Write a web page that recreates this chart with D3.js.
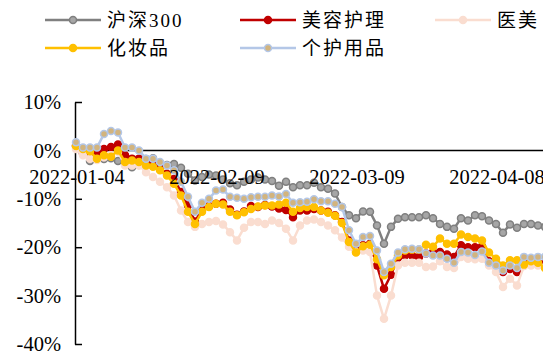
<!DOCTYPE html>
<html><head><meta charset="utf-8">
<script src="https://cdn.jsdelivr.net/npm/d3@7"></script>
<style>
html,body{margin:0;padding:0;background:#fff;}
svg{display:block;}
</style></head>
<body><svg id="c" width="543" height="352"></svg>
<script>
// ---- data (cumulative change, %) ----
const xTickIndex = [0, 20, 40, 60];
const xTickLabels = ["2022-01-04", "2022-02-09", "2022-03-09", "2022-04-08"];
const yTickValues = [10, 0, -10, -20, -30, -40];
const yTickLabels = ["10%", "0%", "-10%", "-20%", "-30%", "-40%"];

const seriesNames = ["沪深300", "美容护理", "医美", "化妆品", "个护用品"];

const hs300 = [0.8,-0.5,-2.2,-1.5,-1.8,-1.6,-2.2,-2.5,-3.5,-3.0,-1.8,-1.6,-2.6,-3.0,-2.8,-3.6,-4.8,-6.2,-5.5,-5.0,-5.2,-6.0,-6.8,-7.2,-6.5,-6.0,-5.6,-6.0,-6.3,-7.3,-6.5,-7.6,-7.2,-7.2,-6.7,-7.6,-7.9,-8.9,-11.7,-13.4,-14.0,-12.6,-12.7,-15.5,-19.3,-15.8,-14.1,-13.8,-13.8,-13.8,-13.4,-14.0,-15.2,-15.8,-16.2,-14.0,-14.5,-13.4,-13.6,-14.5,-15.2,-17.0,-15.3,-16.0,-15.2,-15.2,-15.5,-15.8];
const beauty = [1.0,-0.7,-1.0,-0.5,0.3,0.7,1.2,-1.0,-1.7,-1.7,-2.4,-2.4,-3.8,-4.8,-5.9,-8.6,-11.4,-14.7,-12.2,-11.5,-11.0,-10.8,-12.2,-13.3,-12.6,-11.5,-11.7,-11.3,-11.6,-12.0,-12.3,-13.8,-12.4,-12.4,-12.1,-12.4,-12.7,-13.4,-14.8,-18.6,-20.7,-19.6,-19.3,-23.8,-28.6,-25.7,-22.2,-21.7,-21.7,-22.0,-21.3,-21.0,-21.0,-21.5,-22.0,-19.6,-20.0,-20.0,-19.8,-22.9,-23.9,-25.1,-24.5,-25.1,-23.2,-23.0,-23.2,-23.2];
const medAesth = [0.3,-1.0,-1.7,-2.0,-1.4,-1.0,-0.3,-3.1,-3.1,-3.1,-4.5,-5.5,-6.5,-7.6,-9.3,-12.4,-14.8,-15.8,-15.2,-14.8,-14.6,-15.3,-16.9,-18.6,-16.0,-14.8,-14.8,-15.2,-14.5,-15.0,-16.2,-18.6,-15.5,-14.5,-14.3,-14.8,-15.5,-16.5,-18.0,-19.9,-21.0,-20.7,-21.0,-30.0,-34.8,-30.0,-23.8,-23.2,-23.2,-23.2,-24.1,-24.0,-22.9,-24.1,-24.3,-22.0,-22.4,-22.5,-22.4,-23.8,-25.1,-28.2,-26.5,-27.9,-23.9,-23.8,-23.8,-24.1];
const cosmetics = [0.9,0.3,-0.2,-1.7,-1.0,-1.3,0.0,-2.4,-2.1,-2.4,-3.1,-3.4,-4.1,-5.2,-6.9,-9.3,-12.7,-15.2,-12.7,-11.7,-11.0,-11.2,-12.7,-13.4,-12.8,-12.1,-11.6,-11.4,-11.4,-11.2,-10.8,-12.7,-11.9,-11.7,-11.7,-12.4,-12.9,-13.5,-15.0,-18.9,-21.1,-19.8,-19.5,-22.5,-25.8,-24.1,-21.7,-20.7,-20.5,-20.5,-19.5,-19.9,-18.2,-19.3,-19.3,-17.4,-17.9,-18.2,-18.6,-21.1,-22.4,-23.8,-22.7,-22.7,-23.6,-22.9,-23.2,-24.3];
const personal = [1.7,0.6,0.6,0.6,3.4,4.0,3.7,0.6,0.6,0.0,-1.7,-1.7,-2.4,-3.1,-4.1,-6.5,-9.6,-12.7,-10.8,-10.0,-8.3,-8.1,-9.6,-9.8,-10.0,-9.7,-9.6,-9.6,-9.3,-9.5,-9.0,-10.8,-10.7,-10.6,-10.1,-10.5,-10.5,-11.0,-11.7,-16.5,-19.3,-17.9,-17.7,-20.7,-25.1,-23.4,-21.1,-20.4,-20.3,-20.4,-21.3,-21.7,-21.7,-22.4,-23.2,-21.0,-21.1,-21.6,-20.9,-23.2,-23.8,-24.8,-23.8,-24.3,-22.0,-22.2,-22.0,-22.0];

const seriesValues = [hs300, beauty, medAesth, cosmetics, personal];
const lineColors   = ["#808080", "#C00000", "#FADDD0", "#FFC000", "#B4C7E7"];
const markerFill   = ["#A6A6A6", "#C00000", "#FADDD0", "#FFC000", "#D2B47E"];
const markerStroke = ["#7F7F7F", "#C00000", "#FADDD0", "#FFC000", "#B4C7E7"];

// ---- drawing ----
const svg = d3.select("#c");
const N = hs300.length;
const x = d3.scaleLinear().domain([0, N - 1]).range([76, 76 + 7 * (N - 1)]);
const y = d3.scaleLinear().domain([-40, 10]).range([344, 102]);

const serif = "'Liberation Serif','Times New Roman','Noto Sans CJK SC',serif";

svg.append("defs").append("clipPath").attr("id", "clip")
  .append("rect").attr("x", 0).attr("y", 0).attr("width", 543).attr("height", 352);

// y axis
const yAxis = d3.axisLeft(y)
  .tickValues(yTickValues)
  .tickSizeInner(-7).tickSizeOuter(0).tickPadding(14)
  .tickFormat((d, i) => yTickLabels[i]);
const gy = svg.append("g").attr("transform", "translate(75,0)").call(yAxis);
gy.select(".domain").attr("stroke", "#000").attr("stroke-width", 1.5);
gy.selectAll(".tick line").attr("stroke", "#000").attr("stroke-width", 1.5);
gy.selectAll(".tick text").attr("font-family", serif).attr("font-size", 20.5)
  .attr("fill", "#000").attr("dy", "0.33em");

// x axis line at 0
svg.append("line").attr("x1", 75).attr("x2", 543)
  .attr("y1", y(0)).attr("y2", y(0))
  .attr("stroke", "#000").attr("stroke-width", 1.5);

// series
const line = d3.line().x((d, i) => x(i)).y(d => y(d));
const plot = svg.append("g").attr("clip-path", "url(#clip)");
seriesValues.forEach((vals, k) => {
  const g = plot.append("g");
  g.append("path").datum(vals).attr("d", line)
    .attr("fill", "none").attr("stroke", lineColors[k]).attr("stroke-width", 2.5)
    .attr("stroke-linejoin", "round");
  g.selectAll("circle").data(vals).join("circle")
    .attr("cx", (d, i) => x(i)).attr("cy", d => y(d)).attr("r", 3.5)
    .attr("fill", markerFill[k]).attr("stroke", markerStroke[k]).attr("stroke-width", 1.5);
});

// x tick labels (on top of the lines)
svg.append("g").selectAll("text").data(xTickIndex).join("text")
  .attr("x", d => x(d) + 1).attr("y", 184)
  .attr("text-anchor", "middle")
  .attr("font-family", serif).attr("font-size", 20.5).attr("fill", "#000")
  .text((d, i) => xTickLabels[i]);

// legend
const legPos = [[45, 20], [240, 20], [435, 20], [45, 48], [240, 48]];
const leg = svg.append("g");
seriesNames.forEach((name, k) => {
  const [lx, ly] = legPos[k];
  leg.append("line").attr("x1", lx).attr("x2", lx + 56).attr("y1", ly).attr("y2", ly)
    .attr("stroke", lineColors[k]).attr("stroke-width", 2.5);
  leg.append("circle").attr("cx", lx + 28).attr("cy", ly).attr("r", 3.5)
    .attr("fill", markerFill[k]).attr("stroke", markerStroke[k]).attr("stroke-width", 1.5);
  leg.append("text").attr("x", lx + 62).attr("y", ly).attr("dy", "0.36em")
    .attr("font-family", serif).attr("font-size", 19).attr("letter-spacing", 2)
    .attr("fill", "#000").text(name);
});
</script>
</body></html>
